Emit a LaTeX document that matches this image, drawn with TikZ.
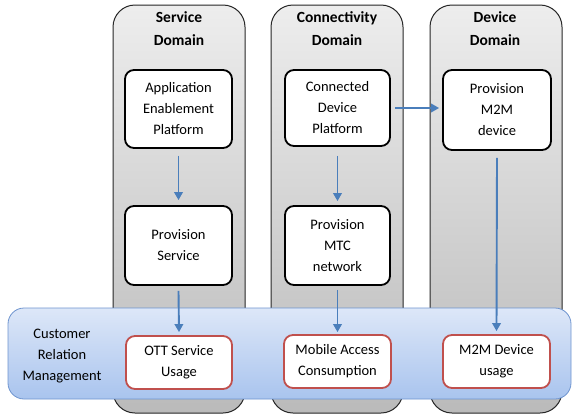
\documentclass[tikz,border=0pt]{standalone}
\usepackage{fontspec}
\setmainfont{Carlito}
\usetikzlibrary{arrows.meta}
\definecolor{arrowblue}{HTML}{4A7EBB}
\definecolor{redb}{HTML}{C0504D}
\definecolor{bandtop}{HTML}{DDE7F8}
\definecolor{bandbot}{HTML}{A9C4EE}
\definecolor{bandline}{HTML}{6E94CF}
\tikzset{
  coldom/.style={draw=black!85, line width=1pt, rounded corners=22pt, top color=black!7, bottom color=black!27},
  inbox/.style={draw=black, line width=1.8pt, rounded corners=9pt, fill=white, align=center, font=\fontsize{14.5}{21}\selectfont},
  usebox/.style={draw=redb, line width=1.8pt, rounded corners=9pt, fill=white, align=center, font=\fontsize{14.5}{21}\selectfont},
  conn/.style={draw=arrowblue, line width=1.9pt, -{Triangle[length=8pt,width=8.5pt]}},
  title/.style={font=\fontsize{15.5}{23}\selectfont\bfseries, align=center},
}
\begin{document}
\begin{tikzpicture}[x=1pt,y=-1pt]
\useasboundingbox (0,0) rectangle (573,418);
% columns
\draw[coldom] (113,5) rectangle (245,413);
\draw[coldom] (271,5) rectangle (403,413);
\draw[coldom] (430,5) rectangle (562,413);
\node[title] (t1) at (179,29) {Service\\Domain};
\node[title] (t2) at (337,29) {Connectivity\\Domain};
\node[title] (t3) at (495,29) {Device\\Domain};
% band
\draw[draw=bandline, line width=0.8pt, rounded corners=16pt, top color=bandtop, bottom color=bandbot] (8,308) rectangle (571,399);
\node[align=center, font=\fontsize{14.5}{21}\selectfont] (crm) at (62,356) {Customer\\Relation\\Management};
% inner nodes
\node[inbox, minimum width=107pt, minimum height=78pt] (aep) at (178.5,109) {Application\\Enablement\\Platform};
\node[inbox, minimum width=107pt, minimum height=79pt] (ps) at (178.5,245.5) {Provision\\Service};
\node[inbox, minimum width=105pt, minimum height=76pt] (cdp) at (337.5,108) {Connected\\Device\\Platform};
\node[inbox, minimum width=105pt, minimum height=79pt] (mtc) at (337.5,245.5) {Provision\\MTC\\network};
\node[inbox, minimum width=108pt, minimum height=80pt] (pmd) at (497,110) {Provision\\M2M\\device};
\node[usebox, minimum width=106pt, minimum height=53pt] (ott) at (179,362.5) {OTT Service\\Usage};
\node[usebox, minimum width=107pt, minimum height=53pt] (mac) at (337.5,361.5) {Mobile Access\\Consumption};
\node[usebox, minimum width=107pt, minimum height=53pt] (mdu) at (496.5,361.5) {M2M Device\\usage};
% connectors
\draw[conn] ([yshift=-7pt]aep.south) -- ([yshift=5pt]ps.north);
\draw[conn] ([yshift=-5pt]ps.south) -- ([yshift=3pt]ott.north);
\draw[conn] ([yshift=-9pt]cdp.south) -- ([yshift=4pt]mtc.north);
\draw[conn] ([yshift=-4pt]mtc.south) -- ([yshift=2pt]mac.north);
\draw[conn] ([xshift=4pt]cdp.east) -- ([xshift=-3pt]pmd.west |- cdp.east);
\draw[conn] ([yshift=-7pt]pmd.south) -- ([yshift=3pt]mdu.north);
\end{tikzpicture}
\end{document}
